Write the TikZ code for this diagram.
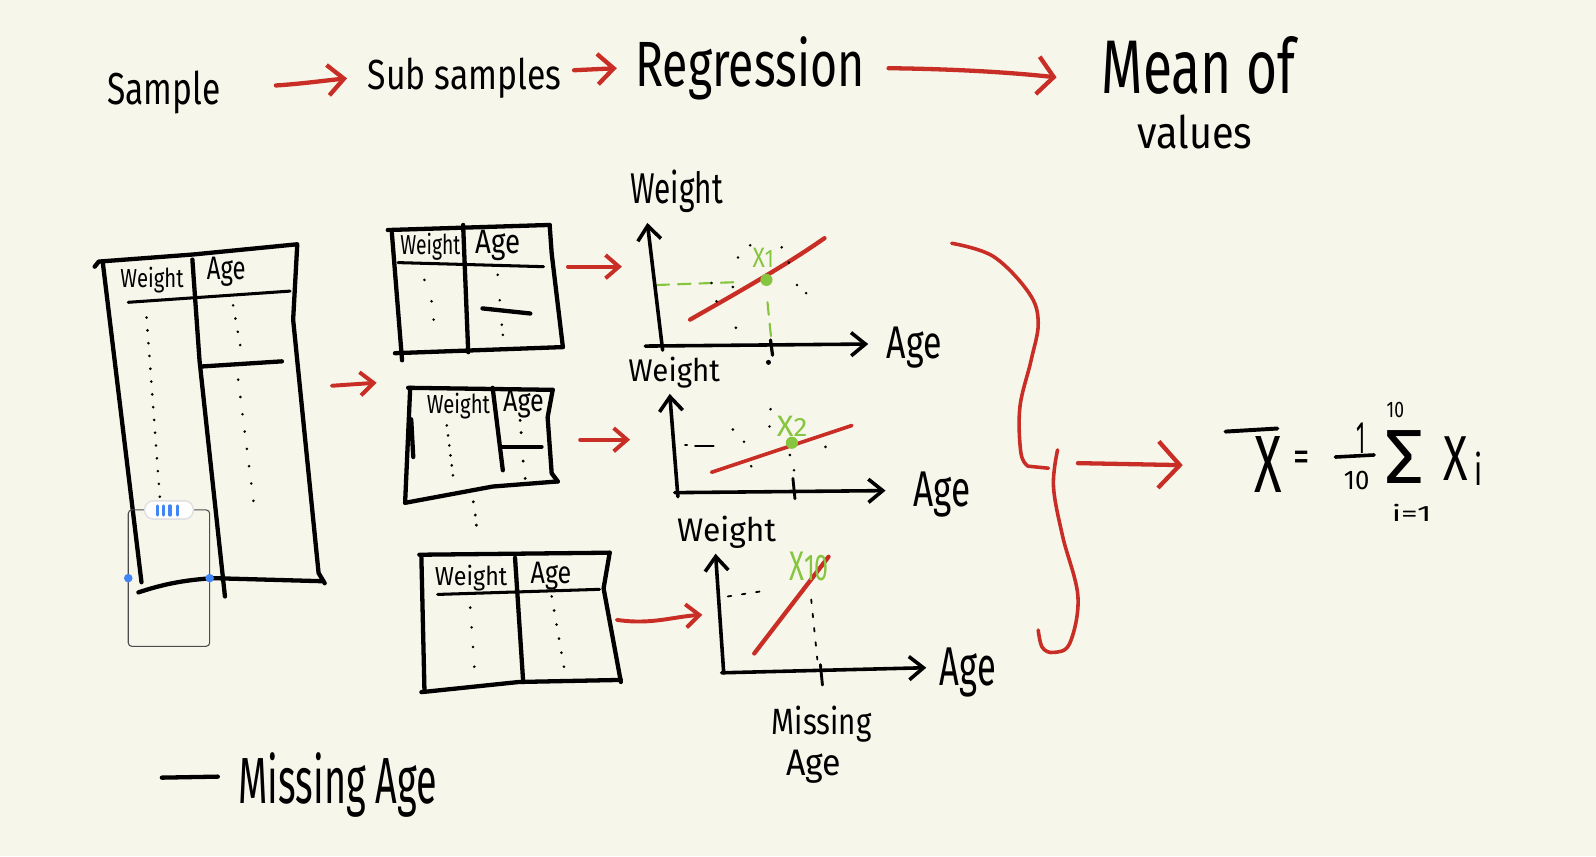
\documentclass[tikz,border=0pt]{standalone}
\usepackage{fontspec}
\setmainfont{Fira Sans}
\usepackage{graphicx}
\usetikzlibrary{arrows.meta,calc}
\newlength{\px}\setlength{\px}{0.02cm}
\newcommand{\hw}[3]{\resizebox{#1\px}{#2\px}{#3}}
\definecolor{bgc}{RGB}{247,246,235}
\definecolor{redink}{RGB}{201,46,38}
\definecolor{greenink}{RGB}{134,197,64}
\definecolor{blueui}{RGB}{66,133,244}
\begin{document}
\begin{tikzpicture}[x=0.02cm,y=-0.02cm,line cap=round,line join=round,
  ink/.style={draw=black,line width=2.4pt},
  inkthin/.style={draw=black,line width=1.7pt},
  redarr/.style={draw=redink,line width=2.4pt,-{Straight Barb[length=9pt,width=17pt]}},
  smallredarr/.style={draw=redink,line width=2.2pt,-{Straight Barb[length=7.5pt,width=13pt]}},
  axisarr/.style={draw=black,line width=2pt,-{Straight Barb[length=8pt,width=13pt]}},
  redline/.style={draw=redink,line width=2.4pt},
  txt/.style={inner sep=0pt,anchor=base west,text=black},
  gtxt/.style={txt,text=greenink},
  gdash/.style={draw=greenink,line width=1.2pt,dash pattern=on 7pt off 5pt},
  kdash/.style={draw=black,line width=1pt,dash pattern=on 2pt off 6pt}]
\fill[bgc] (0,0) rectangle (1568,841);
\useasboundingbox (0,0) rectangle (1568,841);

% ---------- top row ----------
\node[txt] (sample) at (105,103) {\hw{111}{33}{Sample}};
\node[txt] (sub) at (361,88) {\hw{190}{31}{Sub samples}};
\node[txt] (regr) at (624,85) {\hw{225}{49}{Regression}};
\node[txt] (mean) at (1082,92) {\hw{190}{56}{Mean of}};
\node[txt] (values) at (1117,146) {\hw{113}{33}{values}};
\coordinate (a1s) at (271,84); \coordinate (a1e) at (341,77);
\coordinate (a2s) at (564,69); \coordinate (a2e) at (606,67);
\coordinate (a3s) at (873,67); \coordinate (a3e) at (1038,76);
\draw[redarr] (a1s) .. controls (300,82) and (320,79) .. (a1e);
\draw[redarr] (a2s) -- (a2e);
\draw[redarr,-{Straight Barb[length=9pt,width=21pt]}] (a3s) .. controls (950,68) and (1000,72) .. (a3e);

% ---------- big table ----------
\draw[ink] (93,262) -- (97,257) -- (190,250) -- (292,240);
\draw[ink] (101,258) -- (139,572);
\draw[ink] (292,241) -- (288,314) -- (313,563) -- (319,573);
\draw[ink] (136,582) .. controls (160,574) and (180,570) .. (209,568) -- (316,571);
\draw[inkthin] (126,297) -- (285,286);
\draw[ink] (189,255) -- (196,354) -- (221,586);
\draw[ink] (199,360) -- (277,355);
\node[txt] (bw) at (118,282) {\hw{62}{20}{Weight}};
\node[txt] (ba) at (203,275) {\hw{38}{22}{Age}};
\foreach \i in {0,...,14} \fill ($(144,312)!\i/14!(157,488)$) circle[radius=0.8pt];
\foreach \i in {0,...,3} \fill ($(229,300)!\i/3!(236,339)$) circle[radius=0.8pt];
\foreach \i in {0,...,7} \fill ($(234,373)!\i/7!(249,492)$) circle[radius=0.8pt];

% ---------- table 1 ----------
\draw[ink] (381,226) -- (540,221);
\draw[ink] (385,229) -- (395,354);
\draw[ink] (540,221) -- (542,249) -- (553,341);
\draw[ink] (388,347) -- (553,341);
\draw[inkthin] (391,258) -- (534,262);
\draw[ink] (455,221) -- (460,346);
\draw[ink] (474,303) -- (521,308);
\node[txt] (t1w) at (393,250) {\hw{59}{21}{Weight}};
\node[txt] (t1a) at (467,249) {\hw{44}{23}{Age}};
\foreach \p in {(417,275),(424,296),(426,314),(489,270),(491,295),(493,319),(494,329)} \fill \p circle[radius=0.8pt];

% ---------- table 2 ----------
\draw[ink] (401,381) -- (543,383);
\draw[ink] (403,381) -- (398,494);
\draw[ink] (404,412) -- (406,449);
\draw[ink] (543,383) -- (538,410) -- (542,465) -- (548,473);
\draw[ink] (398,494) -- (484,478) -- (548,473);
\draw[ink] (484,381) -- (494,462);
\draw[ink] (493,439) -- (532,439);
\node[txt] (t2w) at (419,406) {\hw{62}{20}{Weight}};
\node[txt] (t2a) at (494,404) {\hw{40}{21}{Age}};
\foreach \i in {0,...,5} \fill ($(439,418)!\i/5!(445,467)$) circle[radius=0.8pt];
\foreach \p in {(511,413),(512,425),(514,453),(516,470),(465,493),(467,506),(468,516)} \fill \p circle[radius=0.9pt];

% ---------- table 3 ----------
\draw[ink] (412,545) -- (599,543);
\draw[ink] (414,548) -- (417,678);
\draw[ink] (599,543) -- (593,578) -- (610,670);
\draw[ink] (414,680) -- (510,670) -- (610,668);
\draw[inkthin] (430,584) -- (589,579);
\draw[ink] (506,548) -- (514,670);
\node[txt] (t3w) at (427,575) {\hw{71}{20}{Weight}};
\node[txt] (t3a) at (521,573) {\hw{40}{21}{Age}};
\foreach \i in {0,...,3} \fill ($(462,597)!\i/3!(466,655)$) circle[radius=0.8pt];
\foreach \i in {0,...,5} \fill ($(542,586)!\i/5!(554,655)$) circle[radius=0.8pt];

% ---------- selection UI ----------
\draw[draw=black!70,line width=0.6pt,rounded corners=2pt] (126,501) rectangle (206,635);
\fill[blueui] (126,568) circle[radius=2.4pt];
\fill[blueui] (206,568) circle[radius=2.4pt];
\draw[fill=white,draw=black!12,line width=0.8pt,rounded corners=5pt] (142,492) rectangle (190,510);
\foreach \x in {155,161,167,174} \draw[blueui,line width=1.8pt] (\x,497) -- (\x,506);

% ---------- small arrows ----------
\coordinate (b1s) at (326,379); \coordinate (b1e) at (370,376);
\coordinate (b2s) at (558,262); \coordinate (b2e) at (611,262);
\coordinate (b3s) at (570,432); \coordinate (b3e) at (619,432);
\coordinate (b4s) at (606,609); \coordinate (b4e) at (690,604);
\draw[smallredarr] (b1s) -- (b1e);
\draw[smallredarr] (b2s) -- (b2e);
\draw[smallredarr] (b3s) -- (b3e);
\draw[smallredarr] (b4s) .. controls (640,614) and (660,606) .. (b4e);

% ---------- plot 1 ----------
\node[txt] (p1w) at (619,200) {\hw{91}{33}{Weight}};
\node[txt] (p1a) at (871,352) {\hw{54}{31}{Age}};
\draw[gdash] (645,280) -- (729,277);
\draw[gdash] (754,297) -- (758,336);
\draw[axisarr] (651,344) -- (636,219);
\draw[axisarr] (634,340) -- (853,338);
\draw[redline] (678,314) .. controls (720,290) and (770,262) .. (810,234);
\fill[greenink] (753,275) circle[radius=3.4pt];
\node[gtxt] (x1) at (739,263) {\hw{21}{19}{X{\small 1}}};
\draw[draw=black,line width=1.8pt] (757,334) -- (759,349);
\fill (755,356) circle[radius=1.4pt];
\foreach \p in {(699,278),(704,296),(725,253),(737,241),(768,243),(775,258),(783,280),(792,288),(723,322),(720,282)} \fill \p circle[radius=0.8pt];

% ---------- plot 2 ----------
\node[txt] (p2w) at (617,375) {\hw{90}{24}{Weight}};
\node[txt] (p2a) at (897,498) {\hw{56}{34}{Age}};
\draw[axisarr] (666,488) -- (658,387);
\draw[axisarr] (663,484) -- (870,482);
\draw[redline,line width=2pt] (699,464) -- (837,418);
\fill[greenink] (778,435) circle[radius=3.4pt];
\node[gtxt] (x2) at (763,429) {\hw{30}{20}{X{\small 2}}};
\draw[draw=black,line width=1pt] (673,437) -- (675,437);
\draw[draw=black,line width=1.2pt] (683,438) -- (701,438);
\draw[draw=black,line width=1.6pt] (779,470) -- (781,490);
\foreach \p in {(720,422),(731,434),(738,458),(757,402),(756,419),(811,439),(776,447),(780,462)} \fill \p circle[radius=0.8pt];

% ---------- plot 3 ----------
\node[txt] (p3w) at (665,532) {\hw{97}{25}{Weight}};
\node[txt] (p3a) at (923,673) {\hw{55}{37}{Age}};
\draw[kdash] (715,586) -- (754,580);
\draw[kdash] (797,589) -- (803,648);
\draw[axisarr] (711,661) -- (703,544);
\draw[axisarr] (709,661) -- (910,656);
\draw[redline] (741,642) -- (814,547);
\node[gtxt] (x10) at (775,570) {\hw{39}{28}{X{\small 10}}};
\draw[draw=black,line width=1.6pt] (806,653) -- (808,673);
\node[txt] (miss1) at (758,722) {\hw{98}{28}{Missing}};
\node[txt] (miss2) at (772,762) {\hw{54}{25}{Age}};

% ---------- brace ----------
\draw[draw=redink,line width=2pt] plot[smooth,tension=0.6] coordinates {(935,239) (976,252) (1011,288) (1020,317) (1013,354) (1002,400) (1003,445) (1010,458)} -- (1030,460);
\draw[draw=redink,line width=2pt] plot[smooth,tension=0.6] coordinates {(1039,442) (1035,478) (1044,527) (1059,586) (1051,632) (1035,641) (1024,636) (1020,619)};
\coordinate (c1s) at (1059,455); \coordinate (c1e) at (1162,457);
\draw[redarr,-{Straight Barb[length=12pt,width=26pt]}] (c1s) -- (c1e);

% ---------- formula ----------
\draw[draw=black,line width=2.2pt] (1204,424) -- (1255,421);
\node[txt] (fx) at (1232,484) {\hw{27}{55}{X}};
\node[inner sep=0pt] (feq) at (1279,453) {\hw{16}{20}{=}};
\node[txt] (fone) at (1332,446) {\hw{9}{30}{1}};
\draw[draw=black,line width=2pt] (1312,449) -- (1350,447);
\node[txt] (ften) at (1320,481) {\hw{25}{18}{10}};
\node[txt] (fsig) at (1360,475) {\hw{39}{52}{Σ}};
\node[txt] (fsup) at (1362,410) {\hw{17}{15}{10}};
\node[txt] (fsub) at (1367,512) {\hw{39}{17}{i=1}};
\node[txt] (fxi) at (1418,472) {\hw{24}{43}{X}};
\node[txt] (fi) at (1448,477) {\hw{8}{33}{i}};

% ---------- legend ----------
\draw[ink] (159,764) -- (214,763);
\node[txt] (legend) at (234,789) {\hw{195}{50}{Missing Age}};
\end{tikzpicture}
\end{document}
